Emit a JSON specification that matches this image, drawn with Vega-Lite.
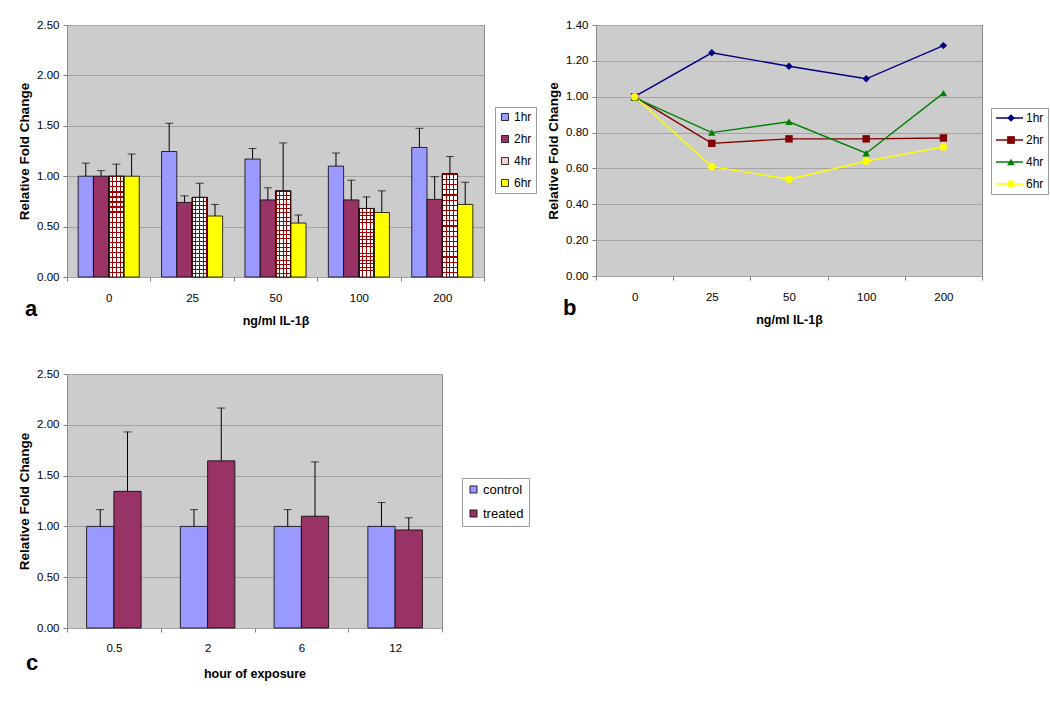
{
  "$schema": "https://vega.github.io/schema/vega-lite/v6.json",
  "background": "white",
  "padding": {"left": 17, "top": 18, "right": 5, "bottom": 5},
  "datasets": {
    "barsA": [
      {"dose": "0", "series": "1hr", "value": 1.0, "upper": 1.13},
      {"dose": "0", "series": "2hr", "value": 1.0, "upper": 1.055},
      {"dose": "0", "series": "4hr", "value": 1.0, "upper": 1.12},
      {"dose": "0", "series": "6hr", "value": 1.0, "upper": 1.22},
      {"dose": "25", "series": "1hr", "value": 1.245, "upper": 1.525},
      {"dose": "25", "series": "2hr", "value": 0.74, "upper": 0.805},
      {"dose": "25", "series": "4hr", "value": 0.79, "upper": 0.93},
      {"dose": "25", "series": "6hr", "value": 0.605, "upper": 0.72},
      {"dose": "50", "series": "1hr", "value": 1.17, "upper": 1.275},
      {"dose": "50", "series": "2hr", "value": 0.765, "upper": 0.885},
      {"dose": "50", "series": "4hr", "value": 0.855, "upper": 1.33},
      {"dose": "50", "series": "6hr", "value": 0.535, "upper": 0.615},
      {"dose": "100", "series": "1hr", "value": 1.1, "upper": 1.23},
      {"dose": "100", "series": "2hr", "value": 0.765, "upper": 0.96},
      {"dose": "100", "series": "4hr", "value": 0.68, "upper": 0.795},
      {"dose": "100", "series": "6hr", "value": 0.64, "upper": 0.855},
      {"dose": "200", "series": "1hr", "value": 1.285, "upper": 1.475},
      {"dose": "200", "series": "2hr", "value": 0.77, "upper": 0.995},
      {"dose": "200", "series": "4hr", "value": 1.025, "upper": 1.195},
      {"dose": "200", "series": "6hr", "value": 0.72, "upper": 0.94}
    ],
    "linesB": [
      {"dose": "0", "series": "1hr", "value": 1.0},
      {"dose": "25", "series": "1hr", "value": 1.245},
      {"dose": "50", "series": "1hr", "value": 1.17},
      {"dose": "100", "series": "1hr", "value": 1.1},
      {"dose": "200", "series": "1hr", "value": 1.285},
      {"dose": "0", "series": "2hr", "value": 1.0},
      {"dose": "25", "series": "2hr", "value": 0.74},
      {"dose": "50", "series": "2hr", "value": 0.765},
      {"dose": "100", "series": "2hr", "value": 0.765},
      {"dose": "200", "series": "2hr", "value": 0.77},
      {"dose": "0", "series": "4hr", "value": 0.995},
      {"dose": "25", "series": "4hr", "value": 0.8},
      {"dose": "50", "series": "4hr", "value": 0.86},
      {"dose": "100", "series": "4hr", "value": 0.685},
      {"dose": "200", "series": "4hr", "value": 1.02},
      {"dose": "0", "series": "6hr", "value": 1.0},
      {"dose": "25", "series": "6hr", "value": 0.61},
      {"dose": "50", "series": "6hr", "value": 0.54},
      {"dose": "100", "series": "6hr", "value": 0.64},
      {"dose": "200", "series": "6hr", "value": 0.72}
    ],
    "barsC": [
      {"hour": "0.5", "group": "control", "value": 1.0, "upper": 1.165},
      {"hour": "0.5", "group": "treated", "value": 1.345, "upper": 1.93},
      {"hour": "2", "group": "control", "value": 1.0, "upper": 1.165},
      {"hour": "2", "group": "treated", "value": 1.645, "upper": 2.165},
      {"hour": "6", "group": "control", "value": 1.0, "upper": 1.165},
      {"hour": "6", "group": "treated", "value": 1.1, "upper": 1.635},
      {"hour": "12", "group": "control", "value": 1.0, "upper": 1.235},
      {"hour": "12", "group": "treated", "value": 0.965, "upper": 1.085}
    ]
  },
  "columns": 2,
  "spacing": {"row": 97, "column": 112},
  "bounds": "flush",
  "concat": [
    {
      "width": 417,
      "height": 252,
      "data": {"name": "barsA"},
      "title": {"text": "a", "orient": "bottom", "anchor": "start", "frame": "group", "dx": -42, "dy": -32, "fontSize": 22, "fontWeight": "bold", "font": "Liberation Sans", "color": "#000000"},
      "encoding": {
        "x": {"field": "dose", "type": "nominal", "sort": ["0", "25", "50", "100", "200"], "title": "ng/ml IL-1β", "scale": {"type": "band", "paddingInner": 0, "paddingOuter": 0}, "axis": {"tickBand": "extent", "labelAngle": 0, "grid": false, "labelPadding": 11, "titlePadding": 11}},
        "xOffset": {"field": "series", "type": "nominal", "scale": {"paddingInner": 0, "paddingOuter": 0.73}},
        "y": {"field": "value", "type": "quantitative", "title": "Relative Fold Change", "scale": {"domain": [0, 2.5]}, "axis": {"values": [0, 0.5, 1, 1.5, 2, 2.5], "format": ".2f"}}
      },
      "layer": [
        {
          "mark": {"type": "bar", "stroke": "#000000", "strokeWidth": 0.8},
          "encoding": {
            "color": {"field": "series", "type": "nominal", "scale": {"domain": ["1hr", "2hr", "4hr", "6hr"], "range": ["#9999ff", "#993366", "#efcfcf", "#ffff00"]},
              "legend": {"orient": "none", "legendX": 428, "legendY": 82, "title": null, "symbolType": "square", "symbolSize": 50, "symbolStrokeColor": "#000000", "symbolStrokeWidth": 0.8, "fillColor": "#ffffff", "strokeColor": "#999999", "padding": 4, "rowPadding": 10, "labelOffset": 3}}
          }
        },
        {
          "transform": [{"filter": "datum.series == '4hr'"}],
          "mark": {"type": "bar", "strokeWidth": 0, "fill": {"gradient": "linear", "x1": 0, "y1": 0, "x2": 1, "y2": 0, "stops": [
            {"offset": 0, "color": "#990000"}, {"offset": 0.07, "color": "#990000"}, {"offset": 0.07, "color": "#ffffff"},
            {"offset": 0.215, "color": "#ffffff"}, {"offset": 0.215, "color": "#990000"}, {"offset": 0.285, "color": "#990000"}, {"offset": 0.285, "color": "#ffffff"},
            {"offset": 0.465, "color": "#ffffff"}, {"offset": 0.465, "color": "#990000"}, {"offset": 0.535, "color": "#990000"}, {"offset": 0.535, "color": "#ffffff"},
            {"offset": 0.715, "color": "#ffffff"}, {"offset": 0.715, "color": "#990000"}, {"offset": 0.785, "color": "#990000"}, {"offset": 0.785, "color": "#ffffff"},
            {"offset": 0.93, "color": "#ffffff"}, {"offset": 0.93, "color": "#990000"}, {"offset": 1, "color": "#990000"}
          ]}}
        },
        {
          "transform": [{"filter": "datum.series == '4hr'"}],
          "mark": {"type": "bar", "stroke": "#000000", "strokeWidth": 0.8, "fill": {"gradient": "linear", "x1": 0, "y1": 0, "x2": 0, "y2": 1, "stops": [
            {"offset": 0, "color": "#990000"}, {"offset": 0.012, "color": "#990000"}, {"offset": 0.012, "color": "rgba(153,0,0,0)"}, {"offset": 0.05, "color": "rgba(153,0,0,0)"},
            {"offset": 0.05, "color": "#990000"}, {"offset": 0.062, "color": "#990000"}, {"offset": 0.062, "color": "rgba(153,0,0,0)"}, {"offset": 0.1, "color": "rgba(153,0,0,0)"},
            {"offset": 0.1, "color": "#990000"}, {"offset": 0.112, "color": "#990000"}, {"offset": 0.112, "color": "rgba(153,0,0,0)"}, {"offset": 0.15, "color": "rgba(153,0,0,0)"},
            {"offset": 0.15, "color": "#990000"}, {"offset": 0.162, "color": "#990000"}, {"offset": 0.162, "color": "rgba(153,0,0,0)"}, {"offset": 0.2, "color": "rgba(153,0,0,0)"},
            {"offset": 0.2, "color": "#990000"}, {"offset": 0.212, "color": "#990000"}, {"offset": 0.212, "color": "rgba(153,0,0,0)"}, {"offset": 0.25, "color": "rgba(153,0,0,0)"},
            {"offset": 0.25, "color": "#990000"}, {"offset": 0.262, "color": "#990000"}, {"offset": 0.262, "color": "rgba(153,0,0,0)"}, {"offset": 0.3, "color": "rgba(153,0,0,0)"},
            {"offset": 0.3, "color": "#990000"}, {"offset": 0.312, "color": "#990000"}, {"offset": 0.312, "color": "rgba(153,0,0,0)"}, {"offset": 0.35, "color": "rgba(153,0,0,0)"},
            {"offset": 0.35, "color": "#990000"}, {"offset": 0.362, "color": "#990000"}, {"offset": 0.362, "color": "rgba(153,0,0,0)"}, {"offset": 0.4, "color": "rgba(153,0,0,0)"},
            {"offset": 0.4, "color": "#990000"}, {"offset": 0.412, "color": "#990000"}, {"offset": 0.412, "color": "rgba(153,0,0,0)"}, {"offset": 0.45, "color": "rgba(153,0,0,0)"},
            {"offset": 0.45, "color": "#990000"}, {"offset": 0.462, "color": "#990000"}, {"offset": 0.462, "color": "rgba(153,0,0,0)"}, {"offset": 0.5, "color": "rgba(153,0,0,0)"},
            {"offset": 0.5, "color": "#990000"}, {"offset": 0.512, "color": "#990000"}, {"offset": 0.512, "color": "rgba(153,0,0,0)"}, {"offset": 0.55, "color": "rgba(153,0,0,0)"},
            {"offset": 0.55, "color": "#990000"}, {"offset": 0.562, "color": "#990000"}, {"offset": 0.562, "color": "rgba(153,0,0,0)"}, {"offset": 0.6, "color": "rgba(153,0,0,0)"},
            {"offset": 0.6, "color": "#990000"}, {"offset": 0.612, "color": "#990000"}, {"offset": 0.612, "color": "rgba(153,0,0,0)"}, {"offset": 0.65, "color": "rgba(153,0,0,0)"},
            {"offset": 0.65, "color": "#990000"}, {"offset": 0.662, "color": "#990000"}, {"offset": 0.662, "color": "rgba(153,0,0,0)"}, {"offset": 0.7, "color": "rgba(153,0,0,0)"},
            {"offset": 0.7, "color": "#990000"}, {"offset": 0.712, "color": "#990000"}, {"offset": 0.712, "color": "rgba(153,0,0,0)"}, {"offset": 0.75, "color": "rgba(153,0,0,0)"},
            {"offset": 0.75, "color": "#990000"}, {"offset": 0.762, "color": "#990000"}, {"offset": 0.762, "color": "rgba(153,0,0,0)"}, {"offset": 0.8, "color": "rgba(153,0,0,0)"},
            {"offset": 0.8, "color": "#990000"}, {"offset": 0.812, "color": "#990000"}, {"offset": 0.812, "color": "rgba(153,0,0,0)"}, {"offset": 0.85, "color": "rgba(153,0,0,0)"},
            {"offset": 0.85, "color": "#990000"}, {"offset": 0.862, "color": "#990000"}, {"offset": 0.862, "color": "rgba(153,0,0,0)"}, {"offset": 0.9, "color": "rgba(153,0,0,0)"},
            {"offset": 0.9, "color": "#990000"}, {"offset": 0.912, "color": "#990000"}, {"offset": 0.912, "color": "rgba(153,0,0,0)"}, {"offset": 0.95, "color": "rgba(153,0,0,0)"},
            {"offset": 0.95, "color": "#990000"}, {"offset": 0.962, "color": "#990000"}, {"offset": 0.962, "color": "rgba(153,0,0,0)"}, {"offset": 1, "color": "rgba(153,0,0,0)"}
          ]}}
        },
        {
          "mark": {"type": "rule", "color": "#000000", "strokeWidth": 1},
          "encoding": {"y2": {"field": "upper"}}
        },
        {
          "mark": {"type": "tick", "color": "#000000", "thickness": 1, "size": 8},
          "encoding": {"y": {"field": "upper", "type": "quantitative", "title": "Relative Fold Change"}}
        }
      ]
    },
    {
      "width": 386,
      "height": 251,
      "data": {"name": "linesB"},
      "title": {"text": "b", "orient": "bottom", "anchor": "start", "frame": "group", "dx": -33, "dy": -32, "fontSize": 22, "fontWeight": "bold", "font": "Liberation Sans", "color": "#000000"},
      "encoding": {
        "x": {"field": "dose", "type": "nominal", "sort": ["0", "25", "50", "100", "200"], "title": "ng/ml IL-1β", "scale": {"type": "band", "paddingInner": 0, "paddingOuter": 0}, "axis": {"tickBand": "extent", "labelAngle": 0, "grid": false, "labelPadding": 11, "titlePadding": 11}},
        "y": {"field": "value", "type": "quantitative", "title": "Relative Fold Change", "scale": {"domain": [0, 1.4]}, "axis": {"values": [0, 0.2, 0.4, 0.6, 0.8, 1.0, 1.2, 1.4], "format": ".2f"}}
      },
      "layer": [
        {
          "mark": {"type": "line", "strokeWidth": 1.4},
          "encoding": {
            "stroke": {"field": "series", "type": "nominal", "scale": {"domain": ["1hr", "2hr", "4hr", "6hr"], "range": ["#000080", "#800000", "#008000", "#ffff00"]},
              "legend": {"orient": "none", "legendX": 395, "legendY": 83, "title": null, "symbolType": "stroke", "symbolSize": 729, "symbolStrokeWidth": 1.4, "fillColor": "#ffffff", "strokeColor": "#999999", "padding": 4, "rowPadding": 10, "clipHeight": 12, "labelOffset": 2}}
          }
        },
        {
          "mark": {"type": "point", "filled": true, "opacity": 1, "size": 55},
          "encoding": {
            "color": {"field": "series", "type": "nominal", "scale": {"range": ["#000080", "#800000", "#008000", "#ffff00"]},
              "legend": {"orient": "none", "legendX": 405, "legendY": 83, "title": null, "symbolSize": 60, "padding": 4, "rowPadding": 10, "clipHeight": 12, "labelExpr": "''"}},
            "shape": {"field": "series", "type": "nominal", "scale": {"range": ["diamond", "square", "triangle-up", "circle"]},
              "legend": {"orient": "none", "legendX": 405, "legendY": 83, "title": null, "symbolSize": 60, "padding": 4, "rowPadding": 10, "clipHeight": 12, "labelExpr": "''"}}
          }
        }
      ]
    },
    {
      "width": 375,
      "height": 254,
      "data": {"name": "barsC"},
      "title": {"text": "c", "orient": "bottom", "anchor": "start", "frame": "group", "dx": -41, "dy": -31, "fontSize": 22, "fontWeight": "bold", "font": "Liberation Sans", "color": "#000000"},
      "encoding": {
        "x": {"field": "hour", "type": "nominal", "sort": ["0.5", "2", "6", "12"], "title": "hour of exposure", "scale": {"type": "band", "paddingInner": 0, "paddingOuter": 0}, "axis": {"tickBand": "extent", "labelAngle": 0, "grid": false, "labelPadding": 10, "titlePadding": 14}},
        "xOffset": {"field": "group", "type": "nominal", "scale": {"paddingInner": 0, "paddingOuter": 0.72}},
        "y": {"field": "value", "type": "quantitative", "title": "Relative Fold Change", "scale": {"domain": [0, 2.5]}, "axis": {"values": [0, 0.5, 1, 1.5, 2, 2.5], "format": ".2f"}}
      },
      "layer": [
        {
          "mark": {"type": "bar", "stroke": "#000000", "strokeWidth": 0.8},
          "encoding": {
            "color": {"field": "group", "type": "nominal", "scale": {"domain": ["control", "treated"], "range": ["#9999ff", "#993366"]},
              "legend": {"orient": "none", "legendX": 395, "legendY": 104, "title": null, "symbolType": "square", "symbolSize": 50, "symbolStrokeColor": "#000000", "symbolStrokeWidth": 0.8, "fillColor": "#ffffff", "strokeColor": "#999999", "padding": 5, "rowPadding": 10, "labelOffset": 3, "labelFontSize": 13}}
          }
        },
        {
          "mark": {"type": "rule", "color": "#000000", "strokeWidth": 1},
          "encoding": {"y2": {"field": "upper"}}
        },
        {
          "mark": {"type": "tick", "color": "#000000", "thickness": 1, "size": 8},
          "encoding": {"y": {"field": "upper", "type": "quantitative", "title": "Relative Fold Change"}}
        }
      ]
    }
  ],
  "resolve": {
    "scale": {"x": "independent", "y": "independent", "xOffset": "independent", "color": "independent", "stroke": "independent", "shape": "independent"},
    "legend": {"color": "independent", "stroke": "independent", "shape": "independent"},
    "axis": {"x": "independent", "y": "independent"}
  },
  "config": {
    "font": "Liberation Sans",
    "view": {"fill": "#cccccc", "stroke": "#8a8a8a", "strokeWidth": 1},
    "axis": {"labelFont": "Liberation Sans", "labelFontSize": 11.5, "labelColor": "#000000", "titleFont": "Liberation Sans", "titleFontSize": 12.5, "titleFontWeight": "bold", "titleColor": "#000000", "tickColor": "#808080", "tickSize": 4, "gridColor": "#a3a3a3", "gridWidth": 1, "domain": false},
    "axisY": {"labelPadding": 4, "titlePadding": 5, "titleFontSize": 13.5},
    "legend": {"labelFont": "Liberation Sans", "labelFontSize": 12, "labelColor": "#000000"}
  }
}
